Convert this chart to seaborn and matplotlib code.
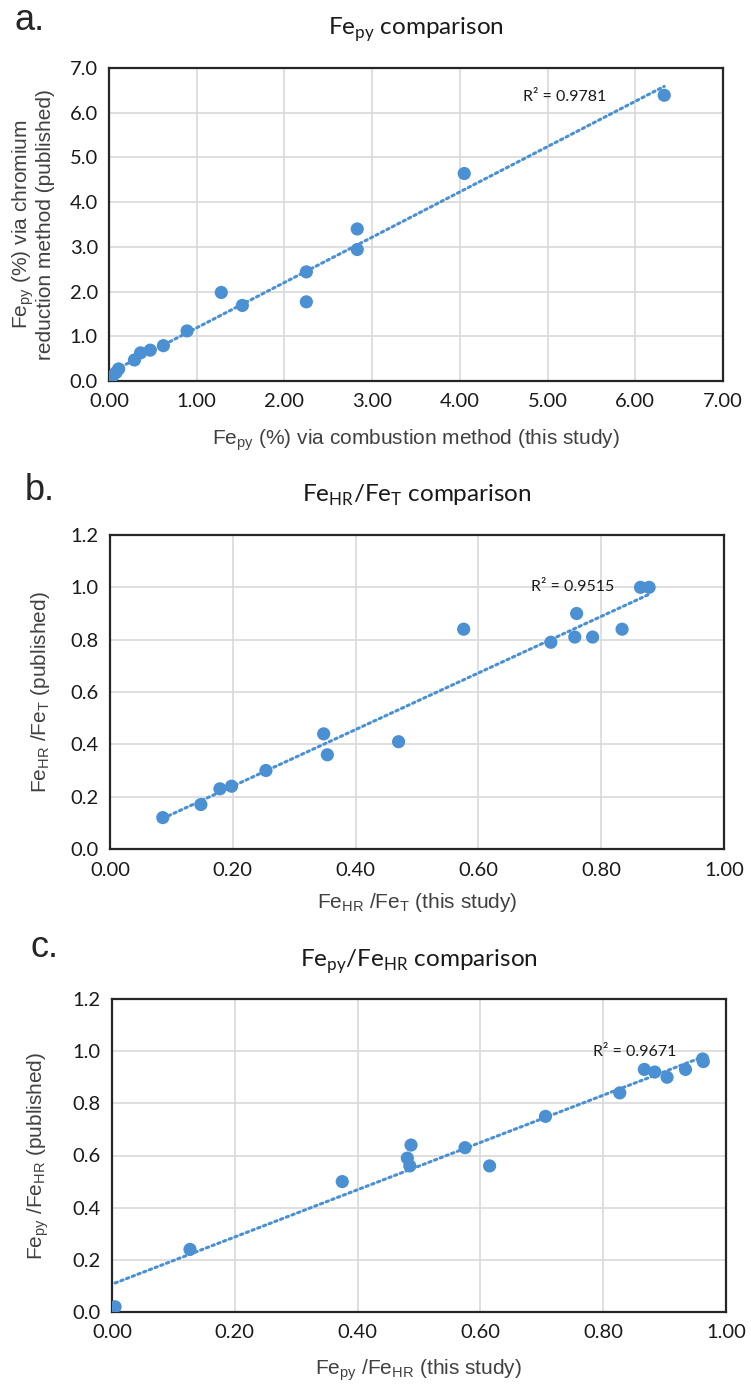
import numpy as np
import pandas as pd
import matplotlib
matplotlib.use("Agg")
import matplotlib.pyplot as plt
import seaborn as sns

# Panel a: pyrite iron (%) by combustion vs chromium reduction
fepy_combustion = [6.33, 4.05, 2.83, 2.83, 2.25, 2.25, 1.28, 1.52, 0.89, 0.62,
                   0.47, 0.36, 0.29, 0.11, 0.08, 0.04, 0.01]
fepy_chromium = [6.39, 4.64, 3.40, 2.94, 2.44, 1.77, 1.98, 1.69, 1.12, 0.79,
                 0.69, 0.63, 0.47, 0.27, 0.19, 0.11, 0.04]

# Panel b: FeHR/FeT ratios
fehr_fet_study = [0.086, 0.148, 0.179, 0.198, 0.254, 0.348, 0.354, 0.470, 0.576,
                  0.718, 0.757, 0.760, 0.786, 0.834, 0.864, 0.878]
fehr_fet_published = [0.12, 0.17, 0.23, 0.24, 0.30, 0.44, 0.36, 0.41, 0.84,
                      0.79, 0.81, 0.90, 0.81, 0.84, 1.00, 1.00]

# Panel c: Fepy/FeHR ratios
fepy_fehr_study = [0.005, 0.127, 0.375, 0.481, 0.485, 0.487, 0.575, 0.615, 0.706,
                   0.827, 0.867, 0.884, 0.904, 0.934, 0.962, 0.963]
fepy_fehr_published = [0.02, 0.24, 0.50, 0.59, 0.56, 0.64, 0.63, 0.56, 0.75,
                       0.84, 0.93, 0.92, 0.90, 0.93, 0.97, 0.96]

r2_labels = ["R\u00b2 = 0.9781", "R\u00b2 = 0.9515", "R\u00b2 = 0.9671"]
panel_letters = ["a.", "b.", "c."]
titles = [r"Fe$_\mathregular{py}$ comparison",
          r"Fe$_\mathregular{HR}$/Fe$_\mathregular{T}$ comparison",
          r"Fe$_\mathregular{py}$/Fe$_\mathregular{HR}$ comparison"]
xlabels = [r"Fe$_\mathregular{py}$ (%) via combustion method (this study)",
           r"Fe$_\mathregular{HR}$ /Fe$_\mathregular{T}$ (this study)",
           r"Fe$_\mathregular{py}$ /Fe$_\mathregular{HR}$ (this study)"]
ylabels = [r"Fe$_\mathregular{py}$ (%) via chromium" + "\n" + "reduction method (published)",
           r"Fe$_\mathregular{HR}$ /Fe$_\mathregular{T}$ (published)",
           r"Fe$_\mathregular{py}$ /Fe$_\mathregular{HR}$ (published)"]

sns.set_theme(style="white")
plt.rcParams["font.family"] = ["Lato", "DejaVu Sans"]
ARIAL = ["Liberation Sans", "DejaVu Sans"]

BLUE = "#4A90D2"
GRID = "#D9D9D9"
FRAME = "#262626"

W, H = 751, 1389
fig = plt.figure(figsize=(W / 100, H / 100), dpi=100)
fig.patch.set_facecolor("white")

# axes boxes in pixels: (left, top, right, bottom)
boxes = [(109, 68, 723, 381), (110, 535, 724, 849), (112, 999, 726, 1312)]
data = [
    (fepy_combustion, fepy_chromium),
    (fehr_fet_study, fehr_fet_published),
    (fepy_fehr_study, fepy_fehr_published),
]
xlims = [(0, 7), (0, 1), (0, 1)]
ylims = [(0, 7), (0, 1.2), (0, 1.2)]
xticks = [np.arange(0, 7.01, 1), np.arange(0, 1.01, 0.2), np.arange(0, 1.01, 0.2)]
yticks = [np.arange(0, 7.01, 1), np.arange(0, 1.21, 0.2), np.arange(0, 1.21, 0.2)]
r2_pos = [(5.2, 6.35), (0.754, 1.0), (0.852, 0.996)]
letter_pos = [(15, 30), (25, 500), (30, 957)]
title_y = [30, 495, 962]
xlabel_y = [440, 902, 1370]
ylabel_x = [33, 41, 38]

for i, (l, t, r, b) in enumerate(boxes):
    ax = fig.add_axes([l / W, 1 - b / H, (r - l) / W, (b - t) / H])
    x, y = data[i]
    df = pd.DataFrame({"x": x, "y": y})
    sns.regplot(data=df, x="x", y="y", ax=ax, scatter=False, ci=None,
                line_kws=dict(color=BLUE, lw=2.2, ls=(0, (0.8, 1.2)),
                              dash_capstyle="round", zorder=2))
    sns.scatterplot(data=df, x="x", y="y", ax=ax, color=BLUE, s=90,
                    edgecolor="none", linewidth=0, zorder=3)
    ax.set_xlim(*xlims[i])
    ax.set_ylim(*ylims[i])
    ax.set_xticks(xticks[i])
    ax.set_yticks(yticks[i])
    ax.set_xticklabels([f"{v:.2f}" for v in xticks[i]])
    ax.set_yticklabels([f"{v:.1f}" for v in yticks[i]])
    ax.tick_params(axis="both", length=0, labelsize=14.5, labelcolor="#1a1a1a")
    ax.tick_params(axis="x", pad=9)
    ax.tick_params(axis="y", pad=8)
    ax.grid(True, color=GRID, lw=1.2)
    ax.set_axisbelow(True)
    for sp in ax.spines.values():
        sp.set_visible(True)
        sp.set_color(FRAME)
        sp.set_linewidth(1.6)
    ax.set_xlabel("")
    ax.set_ylabel("")
    ax.text(*r2_pos[i], r2_labels[i], ha="center", va="center",
            fontsize=11.5, color="#1a1a1a", zorder=4)

    cx = (l + r) / 2 / W
    fig.text(cx, 1 - title_y[i] / H, titles[i], ha="center", va="center",
             fontsize=17.5, color="#1a1a1a")
    fig.text(cx, 1 - xlabel_y[i] / H, xlabels[i], ha="center", va="center",
             fontsize=15, color="#404040", family=ARIAL)
    fig.text(ylabel_x[i] / W, 1 - (t + b) / 2 / H, ylabels[i], ha="center",
             va="center", rotation=90, fontsize=15, color="#404040",
             linespacing=1.0, family=ARIAL)
    fig.text(letter_pos[i][0] / W, 1 - letter_pos[i][1] / H, panel_letters[i],
             ha="left", va="baseline", fontsize=26, color="#262626",
             family=ARIAL)

fig.savefig("out.png", dpi=100, facecolor="white")
